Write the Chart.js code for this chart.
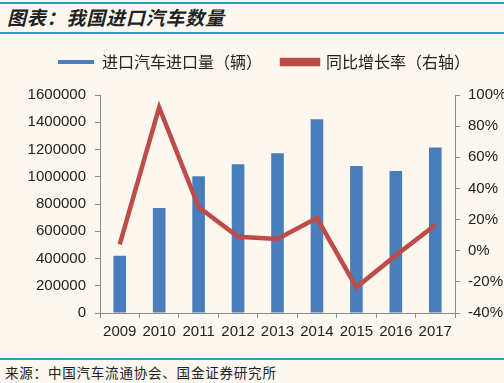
<!DOCTYPE html>
<html><head><meta charset="utf-8">
<script src="https://cdn.jsdelivr.net/npm/chart.js@4/dist/chart.umd.min.js"></script>
<style>
html,body{margin:0;padding:0;background:#fcf8ef;}
#wrap{position:relative;width:504px;height:383px;background:#fcf8ef;overflow:hidden;font-family:"Noto Sans CJK SC",sans-serif;}
.rule{position:absolute;left:0;width:504px;height:2px;background:#2b9bc9;}
#title{position:absolute;left:7px;top:3px;font-size:19px;font-weight:bold;font-style:italic;color:#222;letter-spacing:0.8px;line-height:28px;}
#src{position:absolute;left:5px;top:362px;font-size:13.5px;color:#222;letter-spacing:0.8px;line-height:20px;}
#cv{position:absolute;left:0;top:40px;}
</style></head>
<body><div id="wrap">
<div class="rule" style="top:2px"></div>
<div id="title">图表：我国进口汽车数量</div>
<div class="rule" style="top:32px"></div>
<canvas id="cv" width="504" height="310"></canvas>
<div class="rule" style="top:358px;height:1.5px"></div>
<div id="src">来源：中国汽车流通协会、国金证券研究所</div>
</div>
<script>
const years = ["2009","2010","2011","2012","2013","2014","2015","2016","2017"];
const imports = [420000, 771000, 1003000, 1091000, 1173000, 1422000, 1078000, 1042000, 1215000];
const growth = [0.04, 0.92, 0.28, 0.09, 0.075, 0.21, -0.235, -0.03, 0.165];
const leftTicks = [0,200000,400000,600000,800000,1000000,1200000,1400000,1600000];
const rightTicks = [-0.4,-0.2,0,0.2,0.4,0.6,0.8,1.0];

const axisColor = '#8a8a8a';
const tickFont = {family:'"Liberation Sans", Arial, sans-serif', size:15};
const legendTweak = {
  id:'legendTweak',
  beforeInit(chart){
    const lg = chart.legend;
    const fit = lg.fit;
    lg.fit = function(){ fit.call(this); this.height += 9; };
    const draw = lg.draw;
    lg.draw = function(){ const c=this.ctx; c.save(); c.translate(12,-6); draw.call(this); c.restore(); };
  }
};
new Chart(document.getElementById('cv'), {
  data: {
    labels: years,
    datasets: [
      {type:'line', label:'同比增长率（右轴）', data: growth, yAxisID:'y1',
       borderColor:'#be4b48', backgroundColor:'#be4b48', borderWidth:4.5, pointRadius:0, tension:0, order:0, borderCapStyle:'butt'},
      {type:'bar', label:'进口汽车进口量（辆）', data: imports, yAxisID:'y',
       backgroundColor:'#4a7ebb', borderWidth:0, categoryPercentage:1, barPercentage:0.32, order:1}
    ]
  },
  plugins:[legendTweak],
  options: {
    responsive:false, animation:false, devicePixelRatio:1,
    layout:{padding:{top:0,left:0,right:0,bottom:0}},
    plugins:{
      tooltip:{enabled:false},
      legend:{display:true, reverse:true, position:'top',
        labels:{boxWidth:36, boxHeight:4, padding:20, color:'#222',
          font:{family:'"Noto Sans CJK SC", sans-serif', size:16}}}
    },
    scales:{
      x:{grid:{display:true, drawOnChartArea:false, drawTicks:true, tickLength:5, color:axisColor, offset:true},
         border:{color:axisColor, width:1},
         ticks:{color:'#222', font:tickFont, padding:5, maxRotation:0},
         afterFit:(s)=>{s.height=37;}},
      y:{position:'left', min:0, max:1600000,
         afterBuildTicks:(s)=>{s.ticks = leftTicks.map(v=>({value:v}));},
         grid:{display:true, drawOnChartArea:false, drawTicks:true, tickLength:5, color:axisColor},
         border:{color:axisColor, width:1},
         ticks:{color:'#222', font:tickFont, padding:9, callback:(v)=>String(v)},
         afterFit:(s)=>{s.width=100;}},
      y1:{position:'right', min:-0.4, max:1.0,
         afterBuildTicks:(s)=>{s.ticks = rightTicks.map(v=>({value:v}));},
         grid:{display:true, drawOnChartArea:false, drawTicks:true, tickLength:5, color:axisColor},
         border:{color:axisColor, width:1},
         ticks:{color:'#222', font:tickFont, padding:8, callback:(v)=>Math.round(v*100)+'%'},
         afterFit:(s)=>{s.width=49;}}
    }
  }
});
</script>
</body></html>
